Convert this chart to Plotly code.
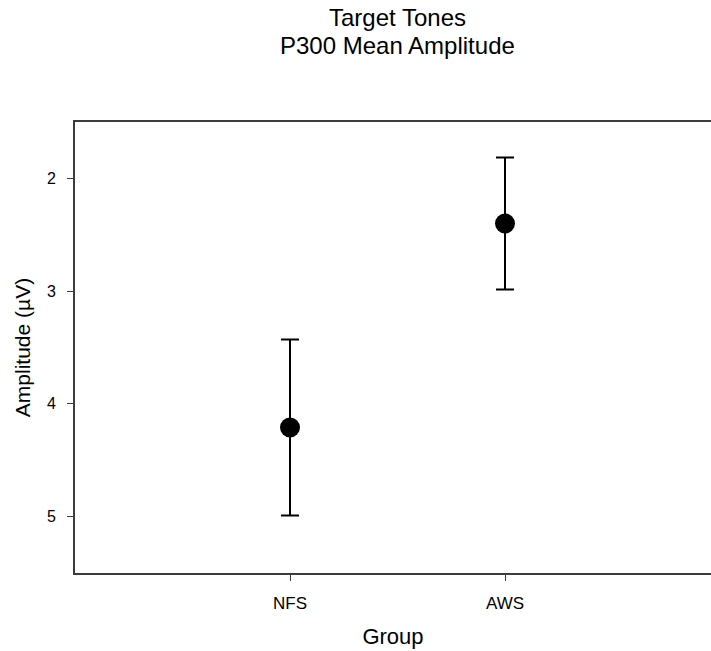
import plotly.graph_objects as go

# Group means and their error half-widths (amplitude in microvolts)
groups = ["NFS", "AWS"]
mean_amplitude = [4.21, 2.40]
amplitude_error = [0.78, 0.585]

y_ticks = [2, 3, 4, 5]

FONT = "Liberation Sans, Arial, sans-serif"
W, H = 711, 651
M_L, M_R, M_T, M_B = 75, 0, 122, 78

fig = go.Figure()
fig.add_trace(go.Scatter(
    x=groups,
    y=mean_amplitude,
    mode="markers",
    marker=dict(size=20, color="black"),
    error_y=dict(type="data", array=amplitude_error, symmetric=True,
                 color="black", thickness=2, width=9),
    showlegend=False,
))

axis_line = dict(showline=True, linecolor="#3c3c3c", linewidth=1.6,
                 ticks="outside", tickcolor="#3c3c3c", tickwidth=1.2,
                 showgrid=False, zeroline=False)

fig.update_layout(
    width=W, height=H,
    margin=dict(l=M_L, r=M_R, t=M_T, b=M_B),
    paper_bgcolor="white", plot_bgcolor="white",
    font=dict(family=FONT, color="black"),
    xaxis=dict(
        **axis_line,
        type="category",
        categoryorder="array", categoryarray=groups,
        range=[-1, -1 + (W - M_L - M_R) / 215.0],
        mirror=True, ticklen=6,
        tickfont=dict(size=17), ticklabelstandoff=8,
        title=dict(text="Group", font=dict(size=22), standoff=16),
    ),
    yaxis=dict(
        **axis_line,
        range=[5.5, 1.5],
        tickvals=y_ticks, ticktext=[str(v) for v in y_ticks],
        mirror=False, ticklen=6,
        tickfont=dict(size=16), ticklabelstandoff=8,
        title=dict(text="Amplitude (\u00b5V)", font=dict(size=21), standoff=11),
    ),
    annotations=[
        dict(text="Target Tones", xref="paper", yref="paper",
             x=(397 - M_L) / (W - M_L - M_R), y=(573 - 18) / 451,
             xanchor="center", yanchor="middle", showarrow=False,
             font=dict(size=24, family=FONT, color="black")),
        dict(text="P300 Mean Amplitude", xref="paper", yref="paper",
             x=(397 - M_L) / (W - M_L - M_R), y=(573 - 45) / 451,
             xanchor="center", yanchor="middle", showarrow=False,
             font=dict(size=24, family=FONT, color="black")),
    ],
)

fig.write_html("out.html")
